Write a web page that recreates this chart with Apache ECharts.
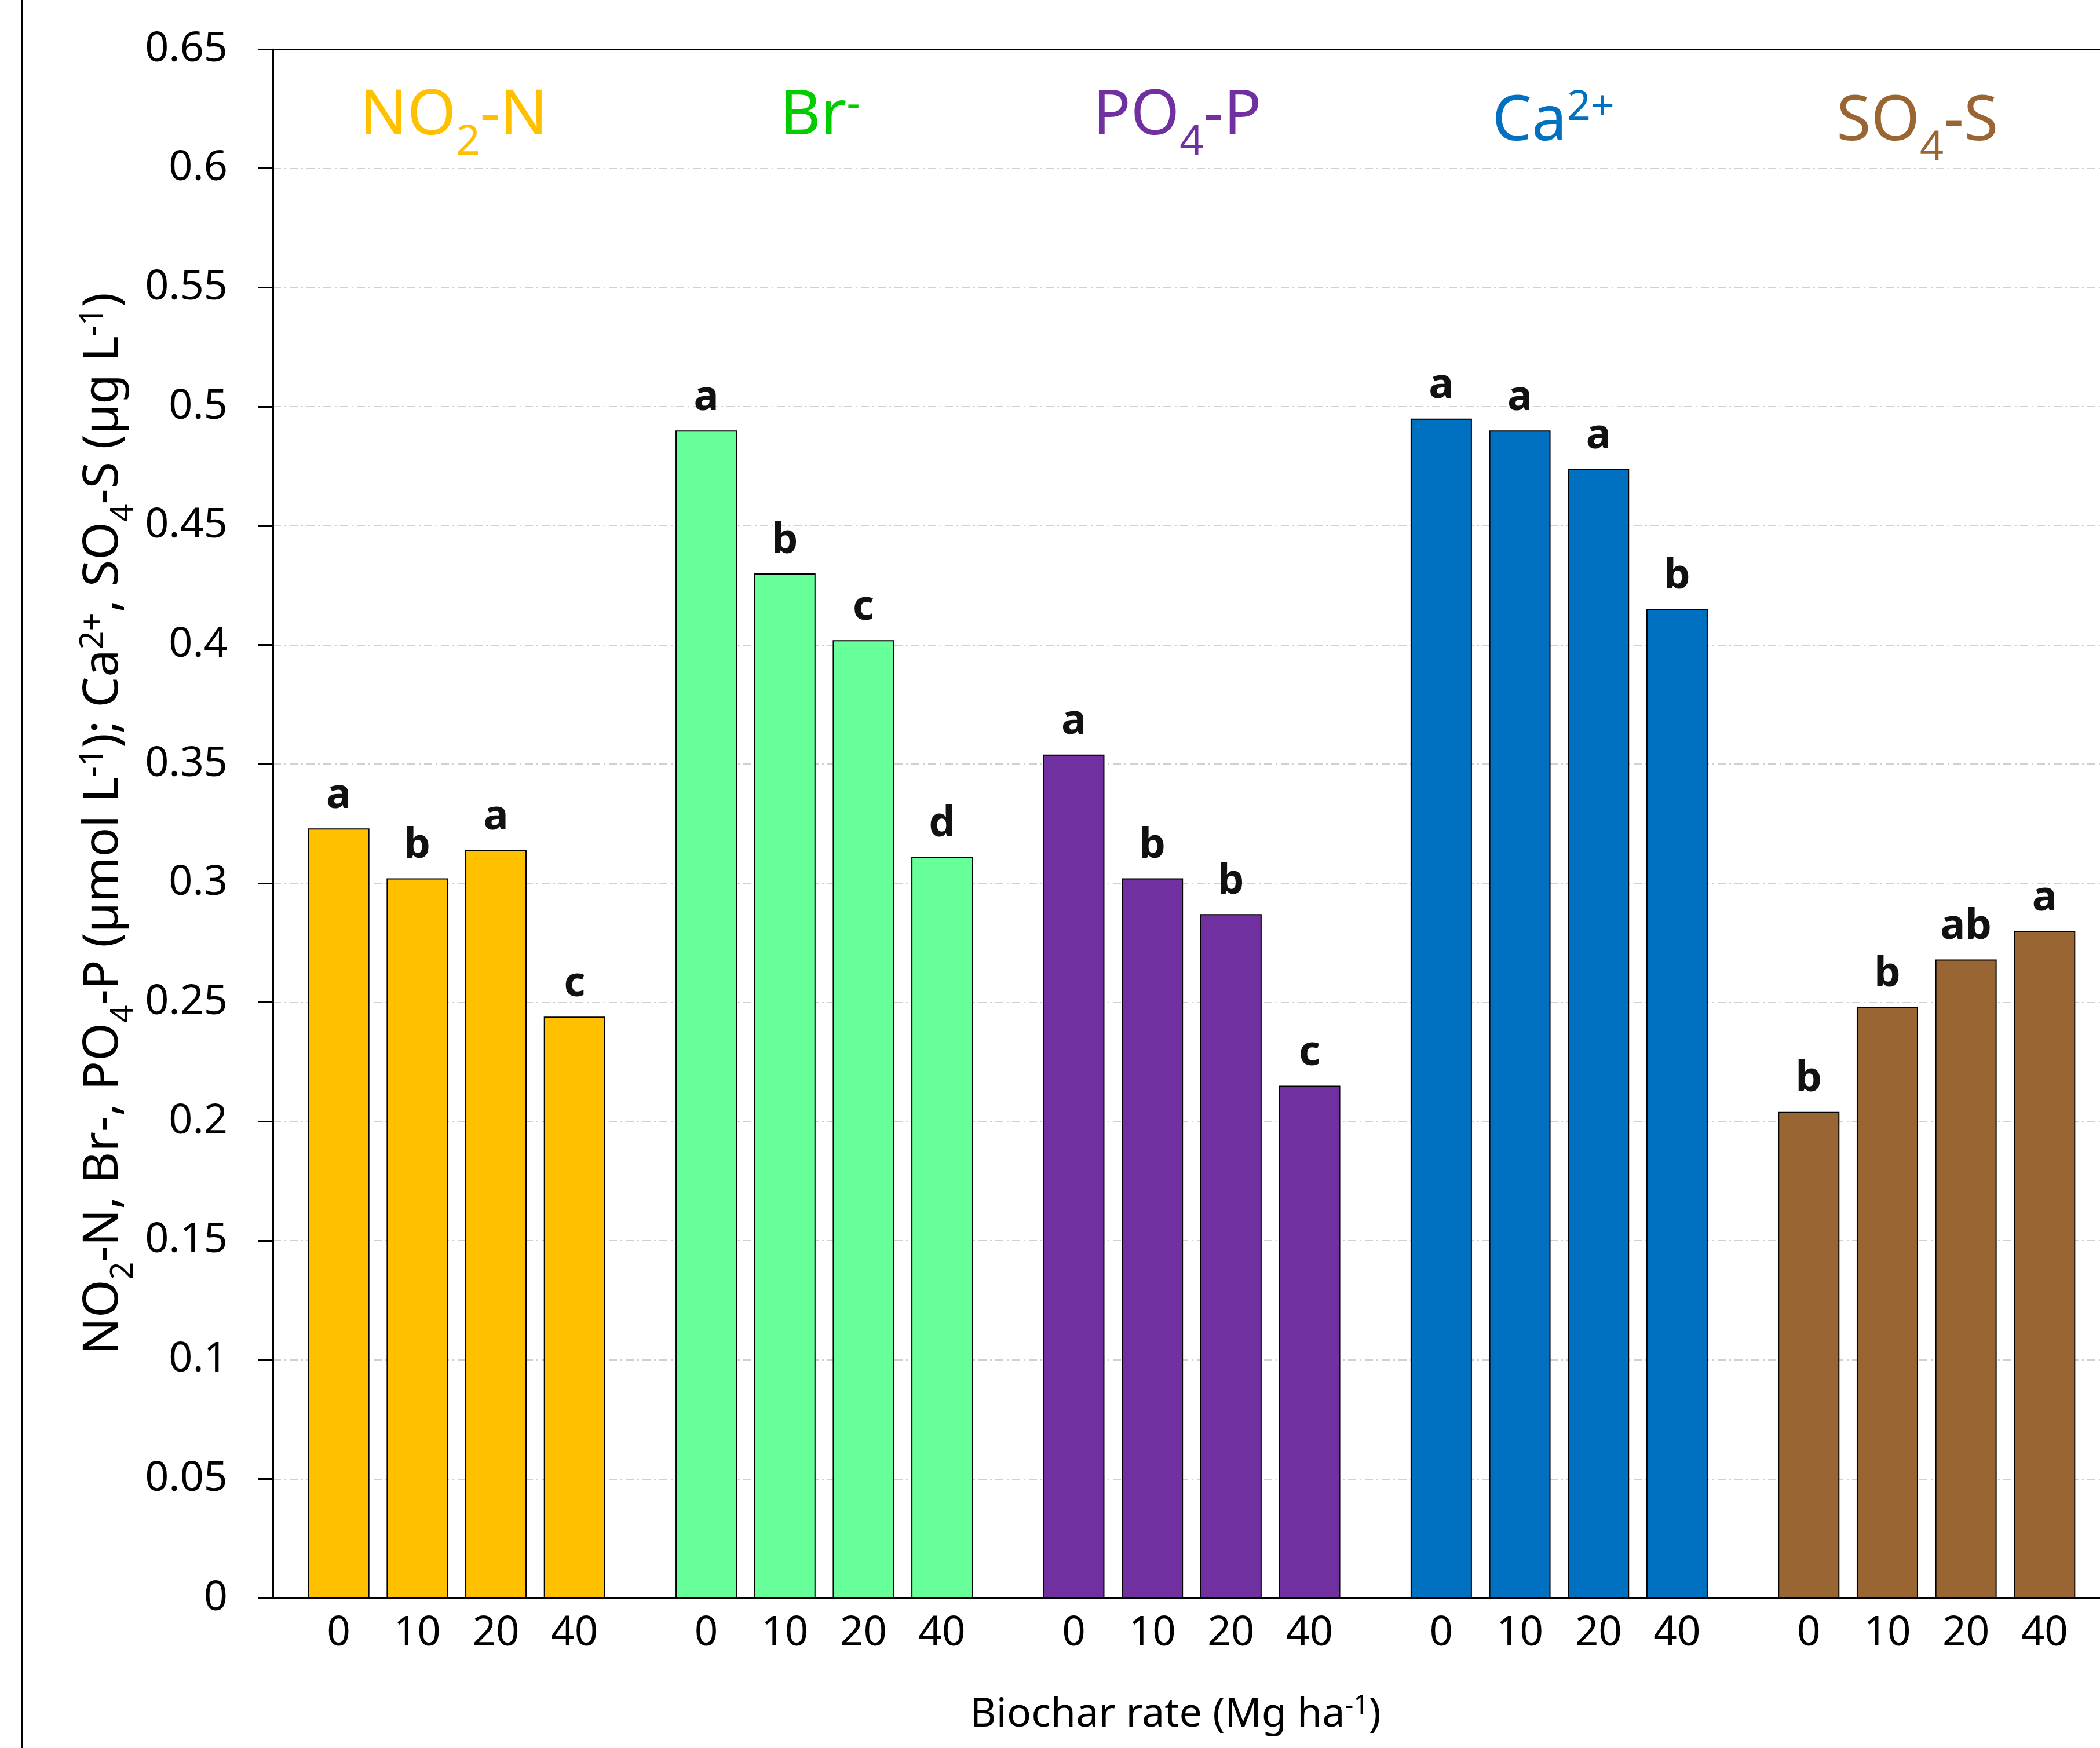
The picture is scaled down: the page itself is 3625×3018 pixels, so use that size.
<!DOCTYPE html>
<html>
<head>
<meta charset="utf-8">
<script src="https://cdn.jsdelivr.net/npm/echarts@6.0.0/dist/echarts.min.js"></script>
<style>
html,body{margin:0;padding:0;background:#fff;}
#chart{width:3625px;height:3018px;}
</style>
</head>
<body>
<div id="chart"></div>
<script>
// ---- data ----
const groups = ['NO2-N', 'Br-', 'PO4-P', 'Ca2+', 'SO4-S'];
const rates = ['0', '10', '20', '40'];
const rate0  = [0.323, 0.490, 0.354, 0.495, 0.204];
const rate10 = [0.302, 0.430, 0.302, 0.490, 0.248];
const rate20 = [0.314, 0.402, 0.287, 0.474, 0.268];
const rate40 = [0.244, 0.311, 0.215, 0.415, 0.280];
const letters0  = ['a', 'a', 'a', 'a', 'b'];
const letters10 = ['b', 'b', 'b', 'a', 'b'];
const letters20 = ['a', 'c', 'b', 'a', 'ab'];
const letters40 = ['c', 'd', 'c', 'b', 'a'];
const labelBase = [0, 0, 0, 0, 0]; // zero-height carriers for the rate labels
const yMin = 0, yMax = 0.65, yStep = 0.05;
// group title pieces: [text, style]
const titleParts = [
  [['NO', 'm'], ['2', 'sub'], ['-N', 'last']],
  [['Br', 'm'], ['-', 'supd']],
  [['PO', 'm'], ['4', 'sub'], ['-P', 'last']],
  [['Ca', 'm'], ['2+', 'sup']],
  [['SO', 'm'], ['4', 'sub'], ['-S', 'last']]
];
const yTitle = '{m|NO}{sub|2}{m|-N, Br-, PO}{sub|4}{m|-P (µmol L}{sup|-1}{m|); Ca}{sup|2+}{m|, SO}{sub|4}{m|-S (µg L}{sup|-1}{m|)}';
const xTitle = '{m|Biochar rate (Mg ha}{sup|-1}{m|)}';

// ---- styles ----
const FONT = "'Noto Sans', 'Open Sans', sans-serif";
const barColors = ['#FFC000', '#66FF99', '#7030A0', '#0070C0', '#996633'];
const titleColors = ['#FFC000', '#00CC00', '#7030A0', '#0070C0', '#996633'];
const titleShiftLeft = [10, 14, 50, 20, 32];   // right padding (px) -> shifts title left by half
const titleShiftDown = [0, 0, 0, 20, 20];      // top padding (px) -> shifts title down by half

const rateSeries = [rate0, rate10, rate20, rate40];
const letterSeries = [letters0, letters10, letters20, letters40];

const titleRich = {};
titleColors.forEach((c, g) => {
  const d = titleShiftDown[g], r = titleShiftLeft[g];
  const base = {fontFamily: FONT, color: c, lineHeight: 170};
  titleRich['m' + g]    = Object.assign({}, base, {fontSize: 108, padding: [d, 0, 0, 0]});
  titleRich['last' + g] = Object.assign({}, base, {fontSize: 108, padding: [d, r, 0, 0]});
  titleRich['sub' + g]  = Object.assign({}, base, {fontSize: 72, padding: [90 + d, 0, 0, 0]});
  titleRich['sup' + g]  = Object.assign({}, base, {fontSize: 72, padding: [d, r, 50, 0]});
  titleRich['supd' + g] = Object.assign({}, base, {fontSize: 72, padding: [d, r, 40, 0]});
});

const series = [];
rates.forEach((r, k) => {
  series.push({
    name: 'rate-label-' + r,
    type: 'bar',
    stack: 's' + k,
    barWidth: 106,
    barGap: '28%',
    silent: true,
    data: labelBase,
    itemStyle: {color: 'rgba(0,0,0,0)', borderWidth: 0},
    label: {
      show: true, position: 'bottom', distance: 26,
      formatter: r, fontFamily: FONT, fontSize: 71, color: '#000'
    }
  });
  series.push({
    name: r,
    type: 'bar',
    stack: 's' + k,
    barWidth: 106,
    barGap: '28%',
    data: rateSeries[k].map((v, g) => ({value: v, itemStyle: {color: barColors[g]}})),
    itemStyle: {borderColor: '#000', borderWidth: 2},
    label: {
      show: true, position: 'top', distance: 20,
      formatter: p => letterSeries[k][p.dataIndex],
      fontFamily: FONT, fontWeight: 'bold', fontSize: 72, color: '#111'
    }
  });
});

const chart = echarts.init(document.getElementById('chart'), null, {renderer: 'canvas'});
chart.setOption({
  animation: false,
  backgroundColor: '#fff',
  grid: {left: 471, top: 85, width: 3172, height: 2674, containLabel: false, outerBoundsMode: 'none'},
  xAxis: [
    {
      type: 'category', data: groups, position: 'bottom',
      axisLine: {show: true, lineStyle: {color: '#000', width: 3}},
      axisTick: {show: false},
      axisLabel: {show: false},
      splitLine: {show: false},
      name: xTitle, nameLocation: 'middle', nameGap: 152,
      nameTextStyle: {
        padding: [0, 56, 0, 0],
        rich: {
          m: {fontFamily: FONT, fontSize: 70, color: '#000', lineHeight: 100},
          sup: {fontFamily: FONT, fontSize: 46, color: '#000', lineHeight: 100, padding: [0, 0, 30, 0]}
        }
      }
    },
    {
      type: 'category', data: groups, position: 'top',
      axisLine: {show: true, lineStyle: {color: '#000', width: 3}},
      axisTick: {show: false},
      splitLine: {show: false},
      axisLabel: {
        show: true, inside: true, margin: 31, interval: 0,
        formatter: (val, idx) => titleParts[idx].map(([t, s]) => '{' + s + idx + '|' + t + '}').join(''),
        rich: titleRich
      }
    }
  ],
  yAxis: {
    type: 'value', min: yMin, max: yMax, interval: yStep,
    axisLine: {show: true, lineStyle: {color: '#000', width: 3}},
    axisTick: {show: true, inside: false, length: 25, lineStyle: {color: '#000', width: 3}},
    axisLabel: {show: true, margin: 78, fontFamily: FONT, fontSize: 72, color: '#000'},
    splitLine: {show: true, lineStyle: {color: '#d0d0d0', width: 2, type: [14, 6, 3, 6]}},
    name: yTitle, nameLocation: 'middle', nameRotate: 90, nameGap: 222,
    nameMoveOverlap: false,
    nameTextStyle: {
      rich: {
        m: {fontFamily: FONT, fontSize: 84, color: '#000', lineHeight: 140},
        sub: {fontFamily: FONT, fontSize: 54, color: '#000', lineHeight: 140, padding: [69, 0, 0, 0]},
        sup: {fontFamily: FONT, fontSize: 56, color: '#000', lineHeight: 140, padding: [0, 0, 34, 0]}
      }
    }
  },
  graphic: [
    {type: 'line', shape: {x1: 38, y1: 0, x2: 38, y2: 3018}, style: {stroke: '#000', lineWidth: 3}, silent: true}
  ],
  series: series
});
</script>
</body>
</html>
